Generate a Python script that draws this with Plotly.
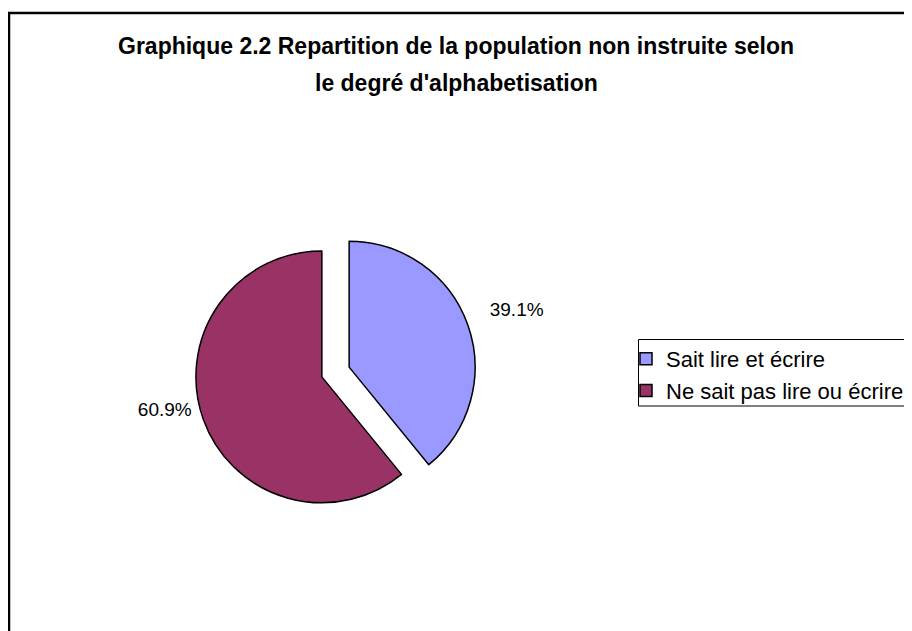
import plotly.graph_objects as go

categories = ["Sait lire et écrire", "Ne sait pas lire ou écrire"]
values = [39.1, 60.9]
colors = ["#9999FF", "#993366"]
title_line1 = "Graphique 2.2 Repartition de la population non instruite selon"
title_line2 = "le degré d'alphabetisation"

# page has an 8px body margin; figure spans page 8..912 x 8..631
OFF = 8
W, H = 904, 623
FONT = "Liberation Sans, Arial, sans-serif"
NB = "\u00a0"


def px(xp):
    return (xp - OFF) / W


def py(yp):
    return 1 - (yp - OFF) / H


fig = go.Figure()
fig.add_trace(go.Pie(
    labels=categories,
    values=values,
    sort=False,
    direction="clockwise",
    rotation=0,
    pull=[0.115, 0.115],
    marker=dict(colors=colors, line=dict(color="black", width=1.5)),
    texttemplate=[NB * 2 + "%{percent:.1%}<br>" + NB,
                  "%{percent:.1%}<br>" + NB],
    textposition="outside",
    textfont=dict(family=FONT, size=19, color="black"),
    domain=dict(x=[px(195.1), px(475.9)], y=[py(512.4), py(231.6)]),
    hoverinfo="label+percent",
))

fig.update_layout(
    width=W, height=H,
    margin=dict(l=0, r=0, t=0, b=0),
    paper_bgcolor="white",
    plot_bgcolor="white",
    font=dict(family=FONT, color="black"),
    title=dict(
        text="<b>" + title_line1 + "</b>",
        x=px(456), xanchor="center",
        y=py(46), yanchor="middle",
        font=dict(family=FONT, size=23, color="black"),
    ),
    annotations=[dict(
        text="<b>" + title_line2 + "</b>",
        x=px(456), y=py(83), xref="paper", yref="paper",
        xanchor="center", yanchor="middle", showarrow=False,
        font=dict(family=FONT, size=23, color="black"),
    )],
    legend=dict(
        x=px(626), y=py(338), xanchor="left", yanchor="top",
        borderwidth=0, bgcolor="rgba(0,0,0,0)",
        font=dict(family=FONT, size=22, color="black"),
    ),
    shapes=[
        dict(
            type="rect", xref="paper", yref="paper",
            x0=px(9), y0=-0.1, x1=1.1, y1=py(13),
            line=dict(color="black", width=2.5), fillcolor="rgba(0,0,0,0)",
            layer="below",
        ),
        dict(
            type="rect", xref="paper", yref="paper",
            x0=px(638.5), y0=py(406), x1=1.1, y1=py(339.5),
            line=dict(color="black", width=1), fillcolor="rgba(0,0,0,0)",
            layer="below",
        ),
    ],
)

fig.write_html("out.html")
